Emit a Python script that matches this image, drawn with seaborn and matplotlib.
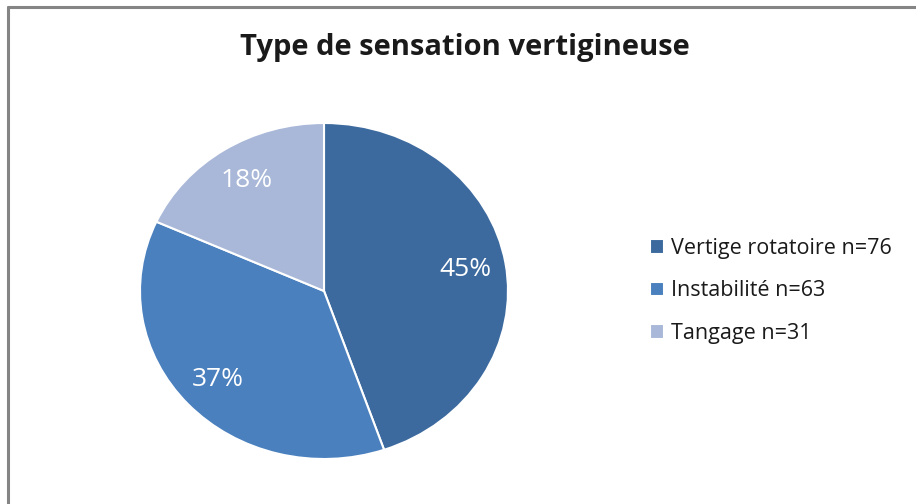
import matplotlib.pyplot as plt
import matplotlib.lines as mlines
import seaborn as sns

categories = ['Vertige rotatoire', 'Instabilité', 'Tangage']
counts = [76, 63, 31]
title = 'Type de sensation vertigineuse'

colors = ['#3C6A9E', '#4A80BE', '#A9B8D8']


def setup_style():
    sns.set_theme(style='white')
    plt.rcParams['font.family'] = ['Open Sans', 'DejaVu Sans']
    plt.rcParams['text.color'] = '#1A1A1A'


def main():
    setup_style()
    fig = plt.figure(figsize=(9.16, 5.04), dpi=100)
    fig.patch.set_facecolor('white')

    # frame of the chart area (left and top only, the rest is cut off)
    bx, by = 8 / 916, 1 - 7 / 504
    fig.add_artist(mlines.Line2D([bx, bx], [0, by], color='#858585', lw=2.2,
                                 transform=fig.transFigure))
    fig.add_artist(mlines.Line2D([bx, 1], [by, by], color='#858585', lw=2.2,
                                 transform=fig.transFigure))

    ax = fig.add_axes([140 / 916, 45 / 504, 368 / 916, 336 / 504])
    wedges, texts, autotexts = ax.pie(
        counts, colors=colors, startangle=90, counterclock=False,
        autopct=lambda p: f'{p:.0f}%', pctdistance=0.78,
        wedgeprops=dict(edgecolor='white', linewidth=1.5),
        textprops=dict(color='white', fontsize=19))
    ax.set_aspect('auto')
    ax.set_xlim(-1.0, 1.0)
    ax.set_ylim(-1.0, 1.0)
    ax.axis('off')

    fig.text(465 / 916, 1 - 48 / 504, title, ha='center', va='center',
             fontsize=21, fontweight='bold')

    labels = [f'{c} n={n}' for c, n in zip(categories, counts)]
    fig.legend(wedges, labels, loc='center left',
               bbox_to_anchor=(639 / 916, 1 - 291 / 504),
               frameon=False, fontsize=15.5, handlelength=0.65,
               handleheight=0.65, handletextpad=0.35, labelspacing=1.0,
               borderpad=0)

    plt.savefig('out.png', dpi=100)


if __name__ == "__main__":
    main()
